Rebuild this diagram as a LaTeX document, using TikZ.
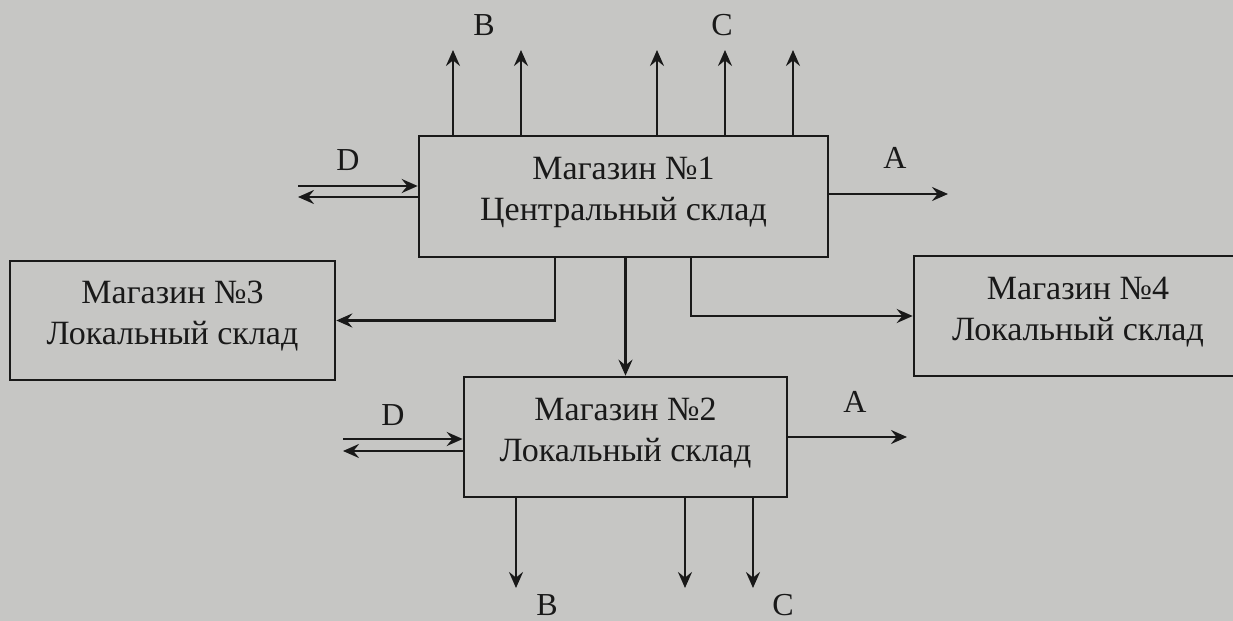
\documentclass[tikz,border=0pt]{standalone}
\usepackage{fontspec}
\setmainfont{Liberation Serif}
\usetikzlibrary{arrows.meta}
\definecolor{paper}{RGB}{198,198,196}
\definecolor{ink}{RGB}{25,25,25}

\begin{document}
\begin{tikzpicture}[x=0.5pt, y=-0.5pt, ink, line width=1.3pt,
  shop/.style={draw, inner sep=0pt, align=center, text depth=7.5pt, font=\fontsize{17}{20.5}\selectfont},
  flow/.style={-{Stealth[length=8pt, width=7pt, inset=2.8pt]}},
  lbl/.style={font=\fontsize{16}{18}\selectfont}]
\clip (0,0) rectangle (1233,621);
\fill[paper] (0,0) rectangle (1233,621);

% shops
\node[shop, minimum width=204.5pt, minimum height=60.5pt] (m1) at (623.5,196.5) {Магазин №1\\Центральный склад};
\node[shop, minimum width=161.5pt, minimum height=60pt] (m2) at (625.5,437) {Магазин №2\\Локальный склад};
\node[shop, minimum width=162.5pt, minimum height=59.5pt] (m3) at (172.5,320.5) {Магазин №3\\Локальный склад};
\node[shop, minimum width=164pt, minimum height=60pt] (m4) at (1078,316) {Магазин №4\\Локальный склад};

% outputs of shop 1
\foreach \x in {453,521,657,725,793} {
  \coordinate (up\x) at (\x,50);
  \draw[flow] (up\x |- m1.north) -- (up\x);
}
\node[lbl] (b1) at (484,25) {B};
\node[lbl] (c1) at (722,25) {C};

\coordinate (d1in) at (298,186);
\coordinate (d1out) at (298,197);
\draw[flow] (d1in) -- (d1in -| m1.west);
\draw[flow] (d1out -| m1.west) -- (d1out);
\node[lbl] (d1) at (348,160) {D};

\coordinate (a1) at (948,194);
\draw[flow] (a1 -| m1.east) -- (a1);
\node[lbl] (a1l) at (895,158) {A};

% transfers between shops
\coordinate (br3) at (555,319);
\coordinate (br4) at (691,316);
\draw[flow] (br3 |- m1.south) |- (m3.east);
\draw[flow] (m2.north |- m1.south) -- (m2.north);
\draw[flow] (br4 |- m1.south) |- (m4.west);

% outputs of shop 2
\coordinate (d2in) at (343,439);
\coordinate (d2out) at (343,451);
\draw[flow] (d2in) -- (d2in -| m2.west);
\draw[flow] (d2out -| m2.west) -- (d2out);
\node[lbl] (d2) at (393,415) {D};

\coordinate (a2) at (907,437);
\draw[flow] (a2 -| m2.east) -- (a2);
\node[lbl] (a2l) at (855,402) {A};

\foreach \x in {516,685,753} {
  \coordinate (dn\x) at (\x,588);
  \draw[flow] (dn\x |- m2.south) -- (dn\x);
}
\node[lbl] (b2) at (547,605) {B};
\node[lbl] (c2) at (783,605) {C};
\end{tikzpicture}
\end{document}
